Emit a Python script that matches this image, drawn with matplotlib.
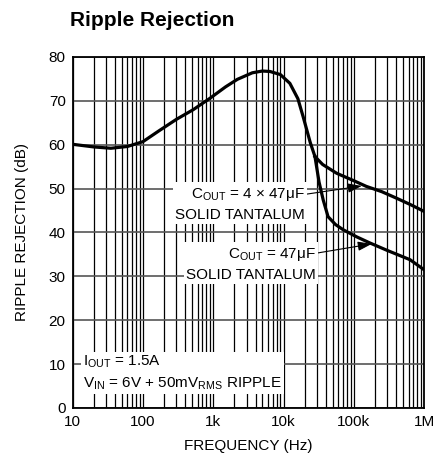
import matplotlib
matplotlib.use("Agg")
import matplotlib.pyplot as plt
from matplotlib.ticker import LogLocator, FixedLocator, NullFormatter

plt.rcParams['font.family'] = ['Liberation Sans Narrow', 'Liberation Sans', 'DejaVu Sans']
plt.rcParams['mathtext.fontset'] = 'custom'
plt.rcParams['mathtext.rm'] = 'Liberation Sans'
plt.rcParams['mathtext.it'] = 'Liberation Sans'
plt.rcParams['mathtext.default'] = 'rm'

# shared part of the curve (both capacitors)
freq_common = [10, 20, 35, 60, 100, 170, 300, 520, 900, 1500, 2200, 3600,
               5000, 6400, 9000, 12300, 16000, 19000, 24000, 28000]
rr_common = [60.1, 59.5, 59.2, 59.6, 60.7, 63.2, 65.8, 68.0, 70.6, 73.2, 74.9, 76.4,
             76.8, 76.7, 76.0, 74.0, 70.5, 66.4, 60.5, 57.3]

# COUT = 4 x 47uF
freq_4x47 = [28000, 36000, 57000, 100000, 151000, 250000, 407000, 650000, 1000000]
rr_4x47 = [57.3, 55.5, 53.5, 51.8, 50.5, 49.3, 47.8, 46.3, 44.8]

# COUT = 47uF
freq_47 = [28000, 32000, 36700, 43000, 55000, 71000, 110000, 170000, 300000, 630000, 1000000]
rr_47 = [57.3, 51.5, 47.4, 43.6, 41.8, 40.6, 39.0, 37.6, 35.9, 33.8, 31.5]

xticks = [10, 100, 1e3, 1e4, 1e5, 1e6]
xlabels = ['10', '100', '1k', '10k', '100k', '1M']
yticks = [0, 10, 20, 30, 40, 50, 60, 70, 80]

fig = plt.figure(figsize=(4.35, 4.66), dpi=100)
ax = fig.add_axes([0.167, 0.1245, 0.808, 0.7532])

ax.set_xscale('log')
ax.set_xlim(10, 1e6)
ax.set_ylim(0, 80)

ax.xaxis.set_major_locator(FixedLocator(xticks))
ax.set_xticklabels(xlabels)
ax.xaxis.set_minor_locator(LogLocator(base=10, subs=range(2, 10), numticks=20))
ax.xaxis.set_minor_formatter(NullFormatter())
ax.set_yticks(yticks)

ax.grid(which='major', axis='x', color='black', lw=0.9)
ax.grid(which='minor', axis='x', color='black', lw=0.9)
ax.grid(which='major', axis='y', color='#555555', lw=1.2)
ax.tick_params(which='both', length=0, labelsize=11, pad=5)
for s in ax.spines.values():
    s.set_linewidth(1.3)

ax.plot(freq_common, rr_common, color='black', lw=2.3, solid_capstyle='round', zorder=3)
ax.plot(freq_4x47, rr_4x47, color='black', lw=2.3, zorder=3)
ax.plot(freq_47, rr_47, color='black', lw=2.3, zorder=3)

box = dict(facecolor='white', edgecolor='none', pad=1.5)
arrow = dict(arrowstyle='-|>,head_length=0.6,head_width=0.2', color='black', lw=0.8,
             mutation_scale=14, shrinkA=0, shrinkB=0)

ax.annotate('C$_{\\mathrm{OUT}}$ = 4 \u00d7 47\u03bcF\nSOLID TANTALUM',
            xy=(1.3e5, 50.6), xytext=(2.0e4, 46.5), textcoords='data',
            ha='right', va='center', ma='right', fontsize=11, linespacing=1.45,
            bbox=box, arrowprops=arrow, zorder=4)
ax.annotate('C$_{\\mathrm{OUT}}$ = 47\u03bcF\nSOLID TANTALUM',
            xy=(1.8e5, 37.4), xytext=(2.9e4, 32.8), textcoords='data',
            ha='right', va='center', ma='right', fontsize=11, linespacing=1.45,
            bbox=box, arrowprops=arrow, zorder=4)

ax.text(14, 8.0, 'I$_{\\mathrm{OUT}}$ = 1.5A\nV$_{\\mathrm{IN}}$ = 6V + 50mV$_{\\mathrm{RMS}}$ RIPPLE',
        ha='left', va='center', fontsize=11, linespacing=1.45, bbox=box, zorder=4)

ax.set_xlabel('FREQUENCY (Hz)', fontsize=11, labelpad=7)
ax.set_ylabel('RIPPLE REJECTION (dB)', fontsize=11, labelpad=14)

fig.text(0.16, 0.955, 'Ripple Rejection', fontsize=15, fontweight='bold', ha='left', va='center')

fig.savefig('out.png', dpi=100)
